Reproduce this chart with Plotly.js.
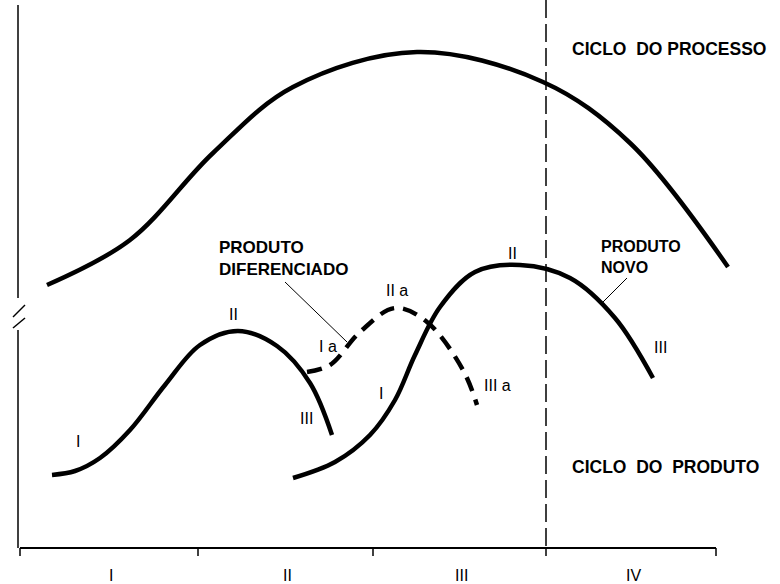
<!DOCTYPE html>
<html>
<head>
<meta charset="utf-8">
<script src="https://cdn.plot.ly/plotly-3.0.1.min.js"></script>
<style>html,body{margin:0;padding:0;background:#fff;}#chart{width:780px;height:584px;}</style>
</head>
<body>
<div id="chart"></div>
<script>
// Schematic coordinates (x: time, y: level measured downward as in the drawing)
const stageBounds = [20, 198, 373, 546, 716];
const stageLabels = ['I', 'II', 'III', 'IV'];

const processX = [47, 130, 213, 293, 417, 543, 630, 728];
const processY = [285, 240, 153, 87, 52, 82, 143, 267];

const productX = [52, 75, 100, 130, 165, 200, 238, 277, 310, 332];
const productY = [475, 471, 458, 430, 385, 345, 331, 346, 383, 435];

const diffX = [307, 330, 360, 395, 427, 463, 477];
const diffY = [372, 365, 332, 308, 322, 370, 405];

const newX = [293, 335, 370, 395, 415, 440, 475, 520, 570, 615, 653];
const newY = [478, 462, 435, 400, 355, 307, 272, 265, 278, 318, 378];

const phaseText = ['I', 'II', 'III', 'I a', 'II a', 'III a', 'I', 'II', 'III'];
const phaseX = [78, 233, 306, 328, 397, 497, 381, 512, 660];
const phaseY = [441, 314, 418, 346, 290, 385, 393, 253, 347];

const black = '#000';
const font = 'Liberation Sans, Arial, sans-serif';

const curve = (x, y, dash) => ({
  x: x, y: y, type: 'scatter', mode: 'lines',
  line: {color: black, width: 4.5, shape: 'spline', smoothing: 1, dash: dash || 'solid'},
  hoverinfo: 'skip', showlegend: false
});

const traces = [
  curve(processX, processY),
  curve(productX, productY),
  curve(diffX, diffY, '15px,9px'),
  curve(newX, newY)
];

const axisY = 548;
const shapes = [];
const ln = (x0, y0, x1, y1, w, dash) => shapes.push({type: 'line', xref: 'x', yref: 'y', x0, y0, x1, y1,
  line: {color: black, width: w, dash: dash || 'solid'}});

// bottom axis with stage boundary ticks
ln(stageBounds[0], axisY, stageBounds[stageBounds.length - 1], axisY, 2);
stageBounds.forEach(b => ln(b, axisY, b, axisY + 8, 1.5));
// left axis with break
ln(18, 5, 18, 298, 1.5);
ln(18, 330, 18, axisY, 1.5);
ln(13, 317, 25, 305, 1.5);
ln(13, 328, 25, 318, 1.5);
// dashed phase boundary
ln(stageBounds[3], 0, stageBounds[3], axisY, 1.5, '18px,6px');
// leader lines
ln(285, 282, 347, 342, 1);
ln(627, 278, 603, 302, 1);

const annotations = [];
for (let i = 0; i < stageLabels.length; i++) {
  annotations.push({x: (stageBounds[i] + stageBounds[i + 1]) / 2 + 2, y: 575, xref: 'x', yref: 'y',
    text: stageLabels[i], showarrow: false, font: {family: font, size: 16, color: black}});
}
phaseText.forEach((t, i) => annotations.push({x: phaseX[i], y: phaseY[i], xref: 'x', yref: 'y',
  text: t, showarrow: false, font: {family: font, size: 16, color: black}}));

const lab = (text, x, y, size) => annotations.push({x, y, xref: 'x', yref: 'y', text, showarrow: false,
  xanchor: 'left', yanchor: 'middle', align: 'left', font: {family: font, size: size, color: black, weight: 'bold'}});
lab('CICLO  DO PROCESSO', 570, 49, 17.5);
lab('CICLO  DO  PRODUTO', 570, 467, 17.5);
lab('PRODUTO<br>NOVO', 599, 257, 16);
lab('PRODUTO<br>DIFERENCIADO', 217, 258, 17);

const layout = {
  width: 780, height: 584,
  margin: {l: 0, r: 0, t: 0, b: 0},
  paper_bgcolor: '#fff', plot_bgcolor: '#fff',
  xaxis: {range: [0, 780], visible: false, fixedrange: true},
  yaxis: {range: [584, 0], visible: false, fixedrange: true},
  shapes: shapes, annotations: annotations, showlegend: false
};

Plotly.newPlot('chart', traces, layout, {staticPlot: true, displayModeBar: false});
</script>
</body>
</html>
